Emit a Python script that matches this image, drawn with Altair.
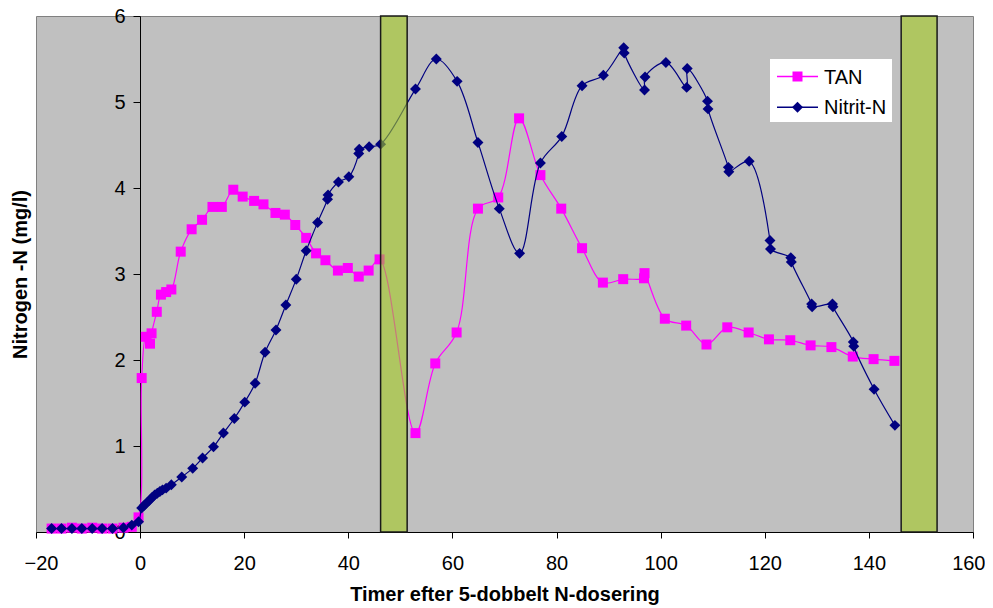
import altair as alt
import pandas as pd

# ---------------- data ----------------
tan_hours = [-17.0, -15.1, -13.1, -11.2, -9.2, -7.3, -5.3, -3.2, -1.6, -0.3,
             0.3, 1.1, 1.9, 2.2, 3.2, 4.0, 5.0, 6.0, 7.8, 9.9, 11.9, 13.9, 15.7,
             17.9, 19.7, 21.9, 23.7, 26.0, 27.8, 29.8, 31.9, 33.8, 35.6, 38.0,
             39.9, 42.0, 43.9, 46.0, 52.9, 56.7, 60.8, 64.9, 68.8, 72.8, 76.9,
             80.9, 84.9, 88.9, 92.8, 96.8, 96.9, 100.8, 104.9, 108.8, 112.8,
             116.9, 120.8, 124.9, 128.8, 132.8, 136.9, 140.9, 144.9]
tan_values = [0.04, 0.04, 0.05, 0.04, 0.05, 0.04, 0.04, 0.05, 0.06, 0.17,
              1.79, 2.27, 2.19, 2.31, 2.56, 2.76, 2.79, 2.82, 3.26, 3.52, 3.63,
              3.78, 3.78, 3.98, 3.90, 3.85, 3.81, 3.71, 3.69, 3.57, 3.42, 3.24,
              3.16, 3.04, 3.07, 2.97, 3.04, 3.17, 1.15, 1.96, 2.32, 3.76, 3.89,
              4.81, 4.15, 3.76, 3.30, 2.90, 2.94, 2.95, 3.01, 2.48, 2.40, 2.18,
              2.38, 2.32, 2.24, 2.23, 2.17, 2.15, 2.04, 2.01, 1.99]

nitrit_hours = [-17.0, -15.1, -13.1, -11.2, -9.2, -7.3, -5.3, -3.2, -1.6, -0.3,
                0.3, 0.8, 1.3, 1.8, 2.3, 2.8, 3.3, 3.8, 4.3, 5.0, 6.0, 8.0,
                10.1, 12.0, 14.1, 16.0, 18.1, 20.1, 22.1, 24.0, 26.1, 28.0,
                30.0, 31.9, 34.1, 36.0, 36.1, 38.1, 40.1, 42.0, 42.1, 44.0,
                46.2, 52.9, 56.9, 60.9, 64.9, 69.0, 72.9, 76.9, 81.0, 84.9,
                89.0, 92.9, 93.0, 96.9, 97.0, 101.0, 105.0, 105.1, 109.0, 109.1,
                113.0, 113.1, 117.0, 121.0, 121.1, 125.0, 125.1, 129.0, 129.1,
                133.0, 133.1, 137.0, 137.1, 141.0, 145.0]
nitrit_values = [0.04, 0.04, 0.04, 0.04, 0.04, 0.04, 0.04, 0.05, 0.08, 0.12,
                 0.28, 0.31, 0.34, 0.37, 0.40, 0.43, 0.45, 0.47, 0.49, 0.51,
                 0.55, 0.64, 0.74, 0.86, 0.99, 1.15, 1.32, 1.51, 1.73, 2.09,
                 2.35, 2.64, 2.94, 3.27, 3.60, 3.87, 3.92, 4.07, 4.13, 4.40,
                 4.45, 4.48, 4.51, 5.15, 5.50, 5.24, 4.53, 3.76, 3.24, 4.29,
                 4.60, 5.19, 5.31, 5.63, 5.57, 5.14, 5.29, 5.46, 5.17, 5.39,
                 5.01, 4.92, 4.24, 4.19, 4.31, 3.39, 3.29, 3.19, 3.14, 2.65,
                 2.62, 2.65, 2.62, 2.21, 2.16, 1.66, 1.24]

dosing_start = [46.2, 146.2]
dosing_end = [51.3, 153.1]

x_ticks = [-20, 0, 20, 40, 60, 80, 100, 120, 140, 160]
y_ticks = [0, 1, 2, 3, 4, 5, 6]

series_names = ["TAN", "Nitrit-N"]
series_colors = ["#FF00FF", "#000080"]

# ---------------- tables ----------------
tan_df = pd.DataFrame({"t": tan_hours, "v": tan_values,
                       "o": list(range(len(tan_hours)))})
nit_df = pd.DataFrame({"t": nitrit_hours, "v": nitrit_values,
                       "o": list(range(len(nitrit_hours)))})
bar_df = pd.DataFrame({"t": dosing_start, "t2": dosing_end,
                       "v": [y_ticks[0]] * 2, "v2": [y_ticks[-1]] * 2})

W, H = 937, 516
FONT = "Liberation Sans"

xscale = alt.Scale(domain=[x_ticks[0], x_ticks[-1]], nice=False, zero=False)
yscale = alt.Scale(domain=[y_ticks[0], y_ticks[-1]], nice=False, zero=False)

xaxis = alt.Axis(values=x_ticks, grid=False, domainColor="black",
                 domainWidth=1, tickColor="black", tickSize=6,
                 labelFont=FONT, labelFontSize=20, labelColor="black",
                 labelPadding=15, labelFlush=True, labelFlushOffset=12,
                 title="Timer efter 5-dobbelt N-dosering", titleFont=FONT,
                 titleFontSize=20, titleFontWeight="bold", titleColor="black",
                 titlePadding=11)
yaxis = alt.Axis(values=y_ticks, grid=False, offset=-104, domainColor="black",
                 domainWidth=1, tickColor="black", tickSize=7,
                 labelFont=FONT, labelFontSize=20, labelColor="black",
                 labelPadding=8, labelFlush=False,
                 title="Nitrogen -N (mg/l)", titleFont=FONT, titleFontSize=20,
                 titleFontWeight="bold", titleColor="black", titleX=-110)

X = alt.X("t:Q", scale=xscale, axis=xaxis)
Y = alt.Y("v:Q", scale=yscale, axis=yaxis)

tan_line = alt.Chart(tan_df).mark_line(
    interpolate="catmull-rom", color=series_colors[0], strokeWidth=1.2
).encode(x=X, y=Y, order="o:Q")
tan_pts = alt.Chart(tan_df).mark_point(
    shape="square", filled=True, size=100, color=series_colors[0], opacity=1
).encode(x=X, y=Y)

nit_line = alt.Chart(nit_df).mark_line(
    interpolate="catmull-rom", color=series_colors[1], strokeWidth=1.2
).encode(x=X, y=Y, order="o:Q")
nit_pts = alt.Chart(nit_df).mark_point(
    shape="diamond", filled=True, size=120, color=series_colors[1], opacity=1
).encode(x=X, y=Y)

bars = alt.Chart(bar_df).mark_rect(
    fill="#A3CA22", fillOpacity=0.6, stroke="#1a1a1a", strokeWidth=1.5
).encode(x=X, x2="t2:Q", y=Y, y2="v2:Q")

# ---------------- legend (drawn by hand) ----------------
one = pd.DataFrame({"a": [0]})
leg_box = alt.Chart(one).mark_rect(fill="white", stroke=None).encode(
    x=alt.value(734), x2=alt.value(856), y=alt.value(43), y2=alt.value(106))
leg_layers = [leg_box]
for i, (name, col, shp, sz) in enumerate(zip(series_names, series_colors,
                                              ["square", "diamond"], [100, 120])):
    yy = 60.5 + i * 30.8
    leg_layers.append(alt.Chart(one).mark_rule(color=col, strokeWidth=1.5).encode(
        x=alt.value(741), x2=alt.value(782), y=alt.value(yy)))
    leg_layers.append(alt.Chart(one).mark_point(
        shape=shp, filled=True, size=sz, color=col, opacity=1).encode(
        x=alt.value(761.5), y=alt.value(yy)))
    leg_layers.append(alt.Chart(one).mark_text(
        text=name, align="left", baseline="middle", font=FONT, fontSize=20,
        color="black").encode(x=alt.value(788), y=alt.value(yy + 1)))

chart = alt.layer(tan_line, tan_pts, nit_line, nit_pts, bars, *leg_layers).properties(
    width=W, height=H,
    autosize=alt.AutoSizeParams(type="none"),
    padding={"left": 28, "top": 8, "right": 12, "bottom": 76},
    background="white",
).configure_view(
    fill="#C0C0C0", stroke="#808080", strokeWidth=1
)

chart.save("out.html", embed_options={"renderer": "svg", "actions": False})
